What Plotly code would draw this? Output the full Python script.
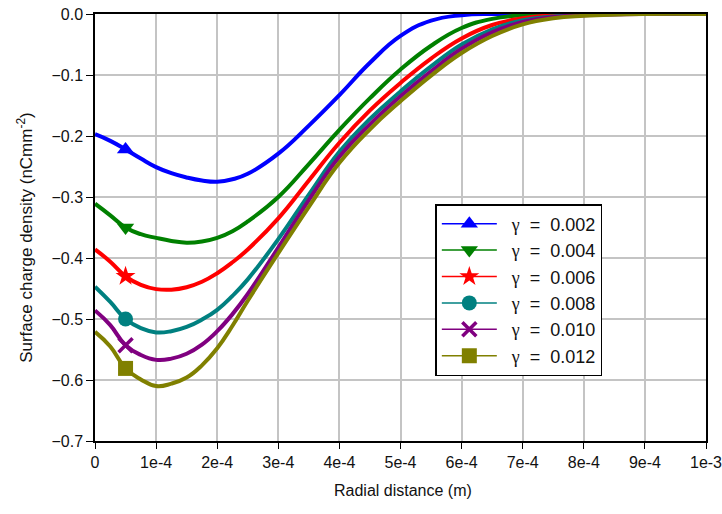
import plotly.graph_objects as go

# Radial distance in units of 1e-4 m
x_e4 = [0, 0.25, 0.5, 0.75, 1, 1.25, 1.5, 1.75, 2, 2.25, 2.5, 3, 3.5, 4, 4.5, 5, 5.5, 6, 6.5, 7, 7.5, 8, 9, 10]

g002 = [-0.197, -0.208, -0.222, -0.237, -0.251, -0.261, -0.268, -0.273, -0.275, -0.271, -0.262, -0.229, -0.183, -0.133, -0.080, -0.036, -0.011, -0.002, 0, 0, 0, 0, 0, 0]
g004 = [-0.311, -0.330, -0.350, -0.361, -0.367, -0.372, -0.375, -0.373, -0.367, -0.356, -0.340, -0.300, -0.246, -0.190, -0.138, -0.091, -0.052, -0.023, -0.008, -0.002, 0, 0, 0, 0]
g006 = [-0.386, -0.406, -0.430, -0.444, -0.451, -0.452, -0.448, -0.439, -0.425, -0.407, -0.386, -0.335, -0.273, -0.211, -0.158, -0.113, -0.073, -0.040, -0.018, -0.007, -0.002, 0, 0, 0]
g008 = [-0.447, -0.472, -0.500, -0.515, -0.522, -0.520, -0.513, -0.501, -0.485, -0.462, -0.435, -0.369, -0.296, -0.226, -0.172, -0.127, -0.086, -0.050, -0.025, -0.010, -0.004, -0.001, 0, 0]
g010 = [-0.486, -0.510, -0.543, -0.559, -0.567, -0.565, -0.557, -0.542, -0.520, -0.492, -0.459, -0.383, -0.305, -0.234, -0.181, -0.135, -0.094, -0.057, -0.030, -0.013, -0.005, -0.002, 0, 0]
g012 = [-0.521, -0.545, -0.581, -0.599, -0.610, -0.606, -0.596, -0.576, -0.548, -0.511, -0.470, -0.392, -0.316, -0.244, -0.189, -0.143, -0.101, -0.064, -0.036, -0.017, -0.007, -0.003, 0, 0]

labels = ["0.002", "0.004", "0.006", "0.008", "0.010", "0.012"]
series = [g002, g004, g006, g008, g010, g012]
colors = ["#0000FF", "#008000", "#FF0000", "#008080", "#800080", "#808000"]
symbols = ["triangle-up", "triangle-down", "star", "circle", "x-thin-open", "square"]
marker_index = 2  # marker drawn at x = 0.5e-4

x_tick_vals = [0, 1, 2, 3, 4, 5, 6, 7, 8, 9, 10]
x_tick_text = ["0", "1e-4", "2e-4", "3e-4", "4e-4", "5e-4", "6e-4", "7e-4", "8e-4", "9e-4", "1e-3"]
y_tick_vals = [0, -0.1, -0.2, -0.3, -0.4, -0.5, -0.6, -0.7]

x_title = "Radial distance (m)"
y_title = "Surface charge density (nCmm<sup>-2</sup>)"

x = [v * 1e-4 for v in x_e4]

fig = go.Figure()
for lab, ys, col, sym in zip(labels, series, colors, symbols):
    fig.add_trace(go.Scatter(
        x=x, y=ys, mode="lines", line=dict(color=col, width=4, shape="spline", smoothing=1.3),
        legendgroup=lab, showlegend=False, hoverinfo="skip"))
for lab, ys, col, sym in zip(labels, series, colors, symbols):
    mk = dict(color=col, size=15, symbol=sym)
    if sym.startswith("x"):
        mk = dict(color=col, size=14, symbol=sym, line=dict(color=col, width=3.5))
    fig.add_trace(go.Scatter(
        x=[x[marker_index]], y=[ys[marker_index]], mode="lines+markers",
        line=dict(color=col, width=1.5), marker=mk, legendgroup=lab,
        name="&nbsp;&nbsp;<span style='font-family:Liberation Serif'>γ</span>&nbsp;&nbsp;=&nbsp;&nbsp;" + lab))

fig.update_layout(
    width=722, height=514,
    margin=dict(l=95, r=16, t=14, b=73),
    paper_bgcolor="white", plot_bgcolor="white",
    font=dict(family="Liberation Sans, Arial", size=16, color="#111"),
    legend=dict(x=0.557, y=0.555, xanchor="left", yanchor="top",
                bordercolor="black", borderwidth=1.5, bgcolor="white",
                font=dict(size=18), tracegroupgap=0, itemwidth=55),
    showlegend=True,
    annotations=[
        dict(text=x_title, xref="paper", yref="paper", x=0.504, y=-0.115,
             xanchor="center", yanchor="middle", showarrow=False, font=dict(size=16)),
        dict(text=y_title, xref="paper", yref="paper", x=-0.1146, y=0.478,
             xanchor="center", yanchor="middle", textangle=-90, showarrow=False, font=dict(size=17)),
    ],
)
fig.update_xaxes(
    range=[0, 1e-3], tickvals=[v * 1e-4 for v in x_tick_vals], ticktext=x_tick_text,
    showgrid=True, gridcolor="#c4c4c4", gridwidth=1.5,
    showline=True, linecolor="black", linewidth=1.5, mirror=True,
    ticks="outside", ticklen=6, tickcolor="black", tickfont=dict(size=16),
    ticklabeloverflow="allow",
    zeroline=False, automargin=False,
)
fig.update_yaxes(
    range=[-0.7, 0], tickvals=y_tick_vals, tickformat=".1f",
    showgrid=True, gridcolor="#c4c4c4", gridwidth=1.5,
    showline=True, linecolor="black", linewidth=1.5, mirror=True,
    ticks="outside", ticklen=7, tickcolor="black", tickfont=dict(size=16),
    zeroline=False, automargin=False,
)

fig.write_html("out.html")
